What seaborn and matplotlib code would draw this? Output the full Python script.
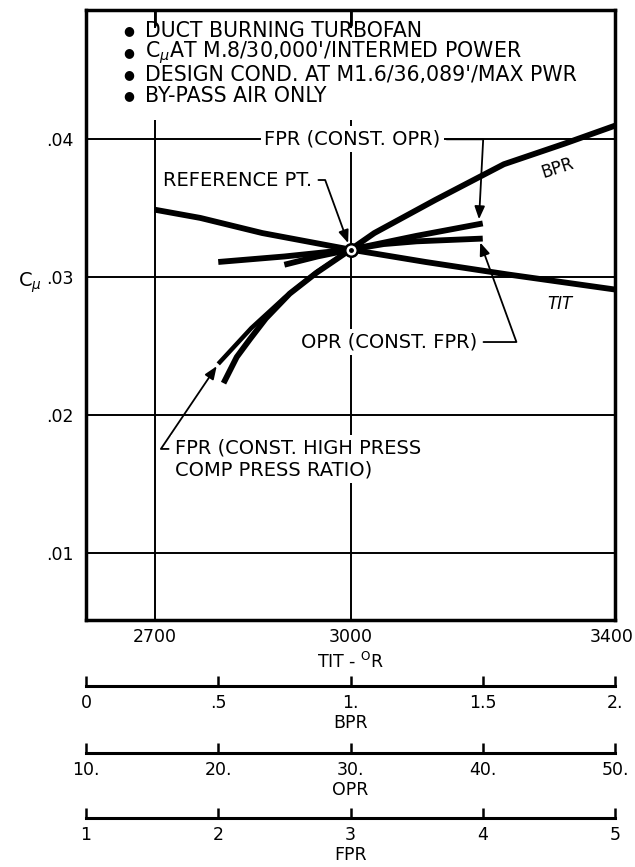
import matplotlib
matplotlib.use("Agg")
import matplotlib.pyplot as plt
import seaborn as sns
from matplotlib.patches import Rectangle

# ------------------------------------------------------------------ data
# TIT curve (x in TIT, deg R)
TIT_X = [2700, 2770, 2865, 3000, 3115, 3240, 3330, 3405]
TIT_CMU = [0.0349, 0.0343, 0.0332, 0.0320, 0.0311, 0.0302, 0.0296, 0.0291]

# BPR curve (x in BPR)
BPR_X = [0.52, 0.57, 0.62, 0.68, 0.77, 0.87, 1.00, 1.09, 1.32, 1.58, 1.81, 2.00]
BPR_CMU = [0.0223, 0.0242, 0.0255, 0.0270, 0.0288, 0.0303, 0.0320, 0.0332,
           0.0356, 0.0382, 0.0397, 0.0410]

# FPR at constant OPR (x in FPR)
FPR_OPR_X = [2.0, 2.5, 3.0, 3.5, 4.0]
FPR_OPR_CMU = [0.0311, 0.0315, 0.0320, 0.0330, 0.0339]

# OPR at constant FPR (x in OPR)
OPR_FPR_X = [25.0, 27.5, 30.0, 32.5, 35.0, 40.0]
OPR_FPR_CMU = [0.0309, 0.0315, 0.0320, 0.0324, 0.0326, 0.0328]

# FPR at constant high-pressure compressor pressure ratio (x in FPR)
FPR_HPC_X = [2.0, 2.25, 2.5, 2.75, 3.0]
FPR_HPC_CMU = [0.0237, 0.0263, 0.0285, 0.0304, 0.0320]

REF_TIT = 3000
REF_CMU = 0.0320

TIT_TICKS = [2700, 3000, 3400]
TIT_GRID = [2700, 3000]
CMU_TICKS = [0.01, 0.02, 0.03, 0.04]
CMU_TICKLABELS = [".01", ".02", ".03", ".04"]
BPR_TICKS = [0, 0.5, 1.0, 1.5, 2.0]
BPR_TICKLABELS = ["0", ".5", "1.", "1.5", "2."]
OPR_TICKS = [10, 20, 30, 40, 50]
OPR_TICKLABELS = ["10.", "20.", "30.", "40.", "50."]
FPR_TICKS = [1, 2, 3, 4, 5]
FPR_TICKLABELS = ["1", "2", "3", "4", "5"]

NOTES = [
    "DUCT BURNING TURBOFAN",
    r"$\mathrm{C}_{\mu}$AT M.8/30,000'/INTERMED POWER",
    "DESIGN COND. AT M1.6/36,089'/MAX PWR",
    "BY-PASS AIR ONLY",
]

# ------------------------------------------------------------------ style
sns.set_style("white")
plt.rcParams.update({
    "font.family": ["DejaVu Sans"],
    "mathtext.fontset": "dejavusans",
    "text.color": "black",
    "axes.labelcolor": "black",
    "axes.edgecolor": "black",
    "xtick.color": "black",
    "ytick.color": "black",
})

FW, FH = 635, 867
fig = plt.figure(figsize=(FW / 100, FH / 100), dpi=100)
L, W = 86 / FW, 529 / FW
ax = fig.add_axes([L, 1 - 620 / FH, W, 610 / FH])

XLIM = (2595, 3405)
YLIM = (0.0051, 0.0494)

FS = 14.0
NFS = 14.8
TFS = 12.5
LW = 4.2

# grid (manual so only the wanted lines appear)
for y in CMU_TICKS:
    ax.axhline(y, color="black", lw=1.4, zorder=0.6)
for x in TIT_GRID:
    ax.axvline(x, color="black", lw=1.4, zorder=0.6)

# white area under the notes block (grid is interrupted there)
ax.add_patch(Rectangle((0.017, 0.8197), 0.968, 0.150, transform=ax.transAxes,
                       fc="white", ec="none", zorder=1))

sns.lineplot(x=TIT_X, y=TIT_CMU, ax=ax, color="black", lw=LW, sort=False,
             errorbar=None, solid_capstyle="butt", zorder=3)

ax.set_xlim(*XLIM)
ax.set_ylim(*YLIM)
ax.set_xticks(TIT_TICKS)
ax.set_xticklabels([str(t) for t in TIT_TICKS])
ax.set_yticks(CMU_TICKS)
ax.set_yticklabels(CMU_TICKLABELS)
ax.tick_params(axis="x", direction="in", length=0, pad=6, labelsize=TFS)
ax.tick_params(axis="y", length=0, pad=9, labelsize=TFS)
for s in ax.spines.values():
    s.set_linewidth(2.5)
    s.set_color("black")
ax.set_xlabel(r"TIT - $^{\mathrm{O}}$R", fontsize=TFS, labelpad=4)
ax.set_ylabel(r"$\mathrm{C}_{\mu}$", fontsize=14, rotation=0, ha="center", va="center")
ax.yaxis.set_label_coords(-0.106, 0.5525)


def overlay(xlim):
    t = ax.twiny()
    t.set_xlim(*xlim)
    t.axis("off")
    return t


ax_bpr = overlay((BPR_TICKS[0], BPR_TICKS[-1]))
sns.lineplot(x=BPR_X, y=BPR_CMU, ax=ax_bpr, color="black", lw=LW, sort=False,
             errorbar=None, solid_capstyle="butt")

ax_opr = overlay((OPR_TICKS[0], OPR_TICKS[-1]))
sns.lineplot(x=OPR_FPR_X, y=OPR_FPR_CMU, ax=ax_opr, color="black", lw=LW,
             sort=False, errorbar=None, solid_capstyle="butt")

ax_fpr = overlay((FPR_TICKS[0], FPR_TICKS[-1]))
sns.lineplot(x=FPR_OPR_X, y=FPR_OPR_CMU, ax=ax_fpr, color="black", lw=LW,
             sort=False, errorbar=None, solid_capstyle="butt")
sns.lineplot(x=FPR_HPC_X, y=FPR_HPC_CMU, ax=ax_fpr, color="black", lw=3.2,
             sort=False, errorbar=None, solid_capstyle="butt")

ax_top = overlay(XLIM)
ax_top.plot([REF_TIT], [REF_CMU], marker="o", ms=9, mfc="white", mec="black",
            mew=1.8, ls="none", zorder=5)
ax_top.plot([REF_TIT], [REF_CMU], marker="o", ms=2.5, color="black", ls="none", zorder=6)
# short inward ticks at the top edge (drawn on the top overlay)
for x in TIT_GRID:
    ax_top.axvline(x, ymin=0.975, ymax=1.0, color="black", lw=2.0, zorder=8)

for a in (ax, ax_bpr, ax_opr, ax_fpr, ax_top):
    a.set_ylim(*YLIM)
ax.set_xlim(*XLIM)
ax_top.set_xlim(*XLIM)

box = dict(boxstyle="square,pad=0.18", fc="white", ec="none")
arr = dict(arrowstyle="-|>,head_length=0.55,head_width=0.22", color="black", lw=1.3)

# notes block
note_y = [0.966, 0.930, 0.894, 0.859]
for y, txt in zip(note_y, NOTES):
    ax_top.text(0.081, y, "\u25CF", transform=ax.transAxes, fontsize=9,
                ha="center", va="center", zorder=7)
    ax_top.text(0.111, y, txt, transform=ax.transAxes, fontsize=NFS,
                ha="left", va="center", zorder=7)

# curve labels
ax_top.text(0.892, 0.741, "BPR", transform=ax.transAxes, fontsize=12,
            rotation=18, ha="center", va="center")
ax_top.text(0.896, 0.518, "TIT", transform=ax.transAxes, fontsize=12,
            style="italic", ha="center", va="center")

# annotations
ax_top.annotate("REFERENCE PT.", xy=(REF_TIT, REF_CMU), xycoords="data",
                xytext=(0.1456, 0.7213), textcoords="axes fraction",
                fontsize=FS, ha="left", va="center", bbox=box,
                arrowprops=dict(arr, connectionstyle="angle,angleA=0,angleB=110",
                                shrinkA=2, shrinkB=5))

ax_fpr.annotate("FPR (CONST. OPR)", xy=(FPR_OPR_X[-1] - 0.03, FPR_OPR_CMU[-1]),
                xycoords="data", xytext=(0.3365, 0.788), textcoords="axes fraction",
                fontsize=FS, ha="left", va="center", bbox=box,
                arrowprops=dict(arr, connectionstyle="angle,angleA=0,angleB=87",
                                shrinkA=2, shrinkB=3))

ax_opr.annotate("OPR (CONST. FPR)", xy=(OPR_FPR_X[-1] - 0.3, OPR_FPR_CMU[-1]),
                xycoords="data", xytext=(0.4064, 0.4557), textcoords="axes fraction",
                fontsize=FS, ha="left", va="center", bbox=box,
                arrowprops=dict(arr, connectionstyle="angle,angleA=0,angleB=110",
                                shrinkA=2, shrinkB=3))

ax_fpr.annotate("FPR (CONST. HIGH PRESS\nCOMP PRESS RATIO)",
                xy=(FPR_HPC_X[0], FPR_HPC_CMU[0]), xycoords="data",
                xytext=(0.168, 0.2640), textcoords="axes fraction",
                fontsize=FS, ha="left", va="center", linespacing=1.25, bbox=box,
                arrowprops=dict(arr, connectionstyle="angle,angleA=180,angleB=56",
                                relpos=(0.0, 0.74), shrinkA=2, shrinkB=2))


# ------------------------------------------------------------------ lower scales
def scale_axis(y_px, ticks, labels, name):
    a = fig.add_axes([L, 1 - y_px / FH, W, 0.0005])
    a.set_xlim(ticks[0], ticks[-1])
    a.set_yticks([])
    for s in ("top", "left", "right"):
        a.spines[s].set_visible(False)
    a.spines["bottom"].set_linewidth(2.2)
    a.spines["bottom"].set_color("black")
    a.patch.set_visible(False)
    a.set_xticks(ticks)
    a.set_xticklabels(labels)
    a.tick_params(axis="x", bottom=True, top=False, direction="in", length=7.5,
                  width=1.8, pad=6, labelsize=TFS)
    a.set_xlabel(name, fontsize=TFS, labelpad=1)
    return a


scale_axis(686, BPR_TICKS, BPR_TICKLABELS, "BPR")
scale_axis(753, OPR_TICKS, OPR_TICKLABELS, "OPR")
scale_axis(818, FPR_TICKS, FPR_TICKLABELS, "FPR")

fig.savefig("out.png", dpi=100, facecolor="white")
